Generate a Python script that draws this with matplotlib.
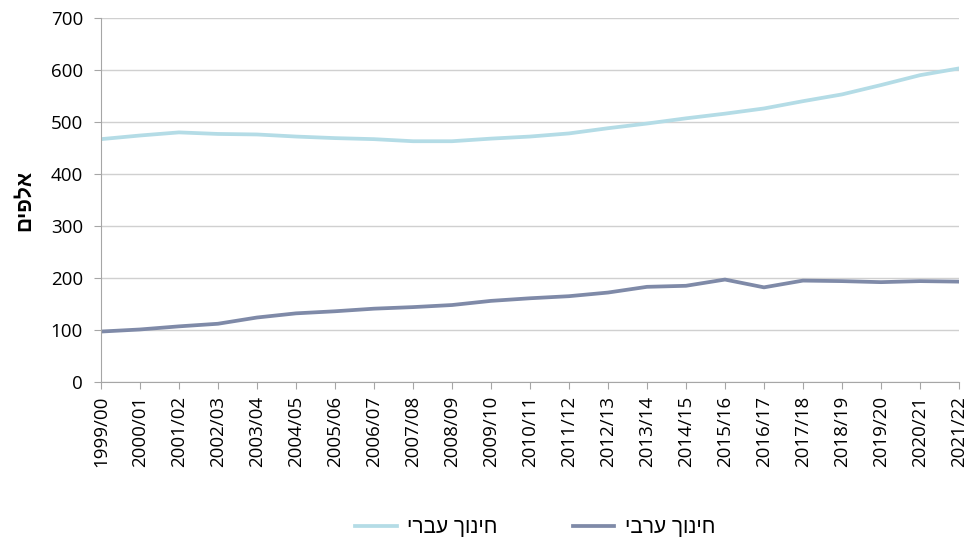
import matplotlib
matplotlib.use("Agg")
import matplotlib.pyplot as plt

plt.rcParams['font.family'] = ['Open Sans', 'DejaVu Sans']

years = ["1999/00", "2000/01", "2001/02", "2002/03", "2003/04", "2004/05",
         "2005/06", "2006/07", "2007/08", "2008/09", "2009/10", "2010/11",
         "2011/12", "2012/13", "2013/14", "2014/15", "2015/16", "2016/17",
         "2017/18", "2018/19", "2019/20", "2020/21", "2021/22"]

# thousands of pupils
hebrew_edu = [467, 474, 480, 477, 476, 472, 469, 467, 463, 463, 468, 472,
              478, 488, 497, 507, 516, 526, 540, 553, 571, 590, 603]
arab_edu = [97, 101, 107, 112, 124, 132, 136, 141, 144, 148, 156, 161,
            165, 172, 183, 185, 197, 182, 195, 194, 192, 194, 193]

# matplotlib draws text left to right without bidi, so reverse the Hebrew
label_hebrew = "חינוך עברי"[::-1]
label_arab = "חינוך ערבי"[::-1]
ylabel = "אלפים"[::-1]
heb_font = ['Liberation Sans', 'DejaVu Sans']

fig = plt.figure(figsize=(9.71, 5.40), dpi=100)
ax = fig.add_axes([0.104, 0.2926, 0.8836, 0.6741])

x = range(len(years))
ax.plot(x, hebrew_edu, color="#b4dce6", linewidth=2.7, label=label_hebrew)
ax.plot(x, arab_edu, color="#7f8aa8", linewidth=2.7, label=label_arab)

ax.set_xlim(0, len(years) - 1)
ax.set_ylim(0, 700)
ax.set_yticks(range(0, 701, 100))
ax.set_xticks(list(x))
ax.set_xticklabels(years, rotation=90)
ax.tick_params(axis='both', labelsize=13.5, color="#a6a6a6", length=5, direction='out')
ax.tick_params(axis='y', pad=8)
ax.tick_params(axis='x', pad=5)

ax.grid(axis='y', color="#d0d0d0", linewidth=1)
ax.set_axisbelow(True)
for side in ["top", "right"]:
    ax.spines[side].set_visible(False)
for side in ["left", "bottom"]:
    ax.spines[side].set_color("#a6a6a6")

ax.set_ylabel(ylabel, fontsize=15, fontweight='bold', labelpad=12, family=heb_font)

fig.legend(loc='lower center', bbox_to_anchor=(0.551, -0.03), ncol=2, frameon=False,
           prop={'family': heb_font, 'size': 15},
           handlelength=2.0, handletextpad=0.5, columnspacing=3.6)

fig.savefig("out.png", dpi=100)
